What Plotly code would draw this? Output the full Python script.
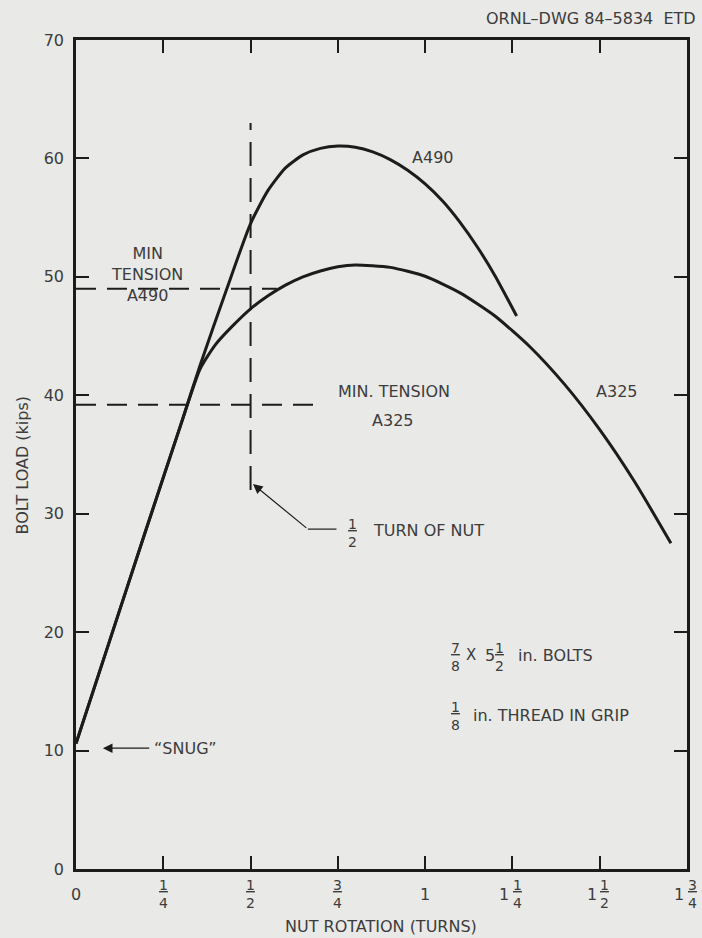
import plotly.graph_objects as go

# ---------------- data ----------------
rotation_a325 = [0, 0.10, 0.20, 0.30, 0.355, 0.40, 0.45, 0.50, 0.55, 0.60, 0.65, 0.70, 0.75, 0.80,
                 0.90, 1.00, 1.10, 1.20, 1.30, 1.40, 1.50, 1.60, 1.704]
load_a325 = [10.6, 19.6, 28.6, 37.5, 42.2, 44.3, 45.9, 47.3, 48.4, 49.3, 50.0, 50.5, 50.85, 51.0,
             50.8, 50.05, 48.65, 46.7, 44.1, 40.9, 37.1, 32.7, 27.5]

rotation_a490 = [0, 0.10, 0.20, 0.30, 0.355, 0.432, 0.50, 0.55, 0.60, 0.65, 0.70, 0.75, 0.80,
                 0.85, 0.90, 0.95, 1.00, 1.05, 1.10, 1.15, 1.20, 1.262]
load_a490 = [10.6, 19.6, 28.6, 37.5, 42.5, 49.0, 54.5, 57.3, 59.2, 60.3, 60.85, 61.05, 60.95,
             60.55, 59.9, 59.0, 57.85, 56.4, 54.6, 52.5, 50.1, 46.7]

min_tension_a490 = 49.0
min_tension_a490_extent = [0, 0.575]
min_tension_a325 = 39.2
min_tension_a325_extent = [0, 0.687]
half_turn = 0.5
half_turn_extent = [32.0, 63.0]

x_tick_vals = [0, 0.25, 0.5, 0.75, 1.0, 1.25, 1.5, 1.75]
x_tick_whole = ["0", "", "", "", "1", "1", "1", "1"]
x_tick_frac = [None, ("1", "4"), ("1", "2"), ("3", "4"), None, ("1", "4"), ("1", "2"), ("3", "4")]
y_tick_vals = [0, 10, 20, 30, 40, 50, 60, 70]

# ---------------- style ----------------
BG = "#e9e9e7"
INK = "#1c1c1c"
TXT = "#3c3c3c"
FONT = "DejaVu Sans"

fig = go.Figure()

fig.add_trace(go.Scatter(x=rotation_a325, y=load_a325, mode="lines",
                         line=dict(color=INK, width=3, shape="spline", smoothing=0.6),
                         name="A325", showlegend=False, hoverinfo="skip"))
fig.add_trace(go.Scatter(x=rotation_a490, y=load_a490, mode="lines",
                         line=dict(color=INK, width=3, shape="spline", smoothing=0.6),
                         name="A490", showlegend=False, hoverinfo="skip"))

# reference dashed lines
fig.add_trace(go.Scatter(x=min_tension_a490_extent, y=[min_tension_a490] * 2, mode="lines",
                         line=dict(color=INK, width=2, dash="20px,11px"),
                         showlegend=False, hoverinfo="skip"))
fig.add_trace(go.Scatter(x=min_tension_a325_extent, y=[min_tension_a325] * 2, mode="lines",
                         line=dict(color=INK, width=2, dash="20px,11px"),
                         showlegend=False, hoverinfo="skip"))
fig.add_trace(go.Scatter(x=[half_turn] * 2, y=half_turn_extent, mode="lines",
                         line=dict(color=INK, width=2, dash="24px,12px"),
                         showlegend=False, hoverinfo="skip"))

ann = []

def text(x, y, t, size=16, xanchor="center", xref="x", yref="y", **kw):
    ann.append(dict(x=x, y=y, xref=xref, yref=yref, text=t, showarrow=False,
                    xanchor=xanchor, yanchor="middle",
                    font=dict(family=FONT, size=size, color=TXT), **kw))

def frac(x, y, num, den, size=14, xref="x", yref="y", xshift=0):
    text(x, y, "<u>%s</u><br>%s" % (num, den), size=size, xref=xref, yref=yref, xshift=xshift)

# x tick labels placed on the x scale
for v, w, f in zip(x_tick_vals, x_tick_whole, x_tick_frac):
    if w and f:
        text(v, -0.0302, w, size=16, yref="paper", xshift=-8)
        frac(v, -0.0302, f[0], f[1], yref="paper", xshift=5)
    elif w:
        text(v, -0.0302, w, size=16, yref="paper")
    else:
        frac(v, -0.0302, f[0], f[1], yref="paper")

# axis titles
text(0.499, -0.0688, "NUT ROTATION (TURNS)", size=16, xref="paper", yref="paper")
text(-0.088, 0.487, "BOLT LOAD (kips)", size=16, xref="paper", yref="paper", textangle=-90)

# drawing number
text(1.018, 1.0265, "ORNL\u2013DWG 84\u20135834  ETD", size=16, xanchor="right", xref="paper", yref="paper")

# curve and line labels
text(0.202, 50.2, "MIN<br>TENSION<br>A490", size=16)
text(0.912, 40.3, "MIN. TENSION", size=16)
text(0.906, 37.9, "A325", size=16)
text(1.020, 60.1, "A490", size=16)
text(1.547, 40.3, "A325", size=16)

# 1/2 turn of nut
frac(0.792, 28.4, "1", "2")
text(0.846, 28.6, "TURN OF NUT", size=16, xanchor="left")
ann.append(dict(x=0.507, y=32.5, ax=0.664, ay=28.7, xref="x", yref="y", axref="x", ayref="y",
                text="", showarrow=True, arrowhead=2, arrowsize=1.6, arrowwidth=1.2, arrowcolor=INK))

# snug
ann.append(dict(x=0.077, y=10.2, ax=0.214, ay=10.2, xref="x", yref="y", axref="x", ayref="y",
                text="", showarrow=True, arrowhead=2, arrowsize=1.6, arrowwidth=1.2, arrowcolor=INK))
text(0.219, 10.2, "\u201cSNUG\u201d", size=16, xanchor="left")

# bolt notes
frac(1.088, 17.9, "7", "8")
text(1.131, 18.05, "X", size=15)
text(1.185, 18.05, "5", size=16)
frac(1.214, 17.9, "1", "2")
text(1.259, 18.05, "in. BOLTS", size=16, xanchor="left")
frac(1.088, 12.9, "1", "8")
text(1.131, 13.0, "in. THREAD IN GRIP", size=16, xanchor="left")

shapes = [dict(type="line", xref="x", yref="y", x0=0.664, x1=0.746, y0=28.7, y1=28.7,
               line=dict(color=INK, width=1.2))]

fig.update_layout(
    width=702, height=938,
    margin=dict(l=76, r=13, t=40, b=69),
    paper_bgcolor=BG, plot_bgcolor=BG,
    annotations=ann, shapes=shapes,
    font=dict(family=FONT, size=16, color=TXT),
    xaxis=dict(range=[0, 1.75], tickvals=x_tick_vals, showticklabels=False,
               ticks="inside", ticklen=13, tickwidth=2, tickcolor=INK,
               showline=True, linewidth=2.5, linecolor=INK, mirror="ticks",
               showgrid=False, zeroline=False, fixedrange=True),
    yaxis=dict(range=[0, 70], tickvals=y_tick_vals, ticks="inside", ticklen=13, tickwidth=2,
               tickcolor=INK, showline=True, linewidth=2.5, linecolor=INK, mirror="ticks",
               showgrid=False, zeroline=False, ticklabelstandoff=6,
               tickfont=dict(family=FONT, size=16, color=TXT), fixedrange=True),
)

fig.write_html("out.html", config={"displayModeBar": False},
               post_script="document.body.style.margin='0';document.body.style.overflow='hidden';")
